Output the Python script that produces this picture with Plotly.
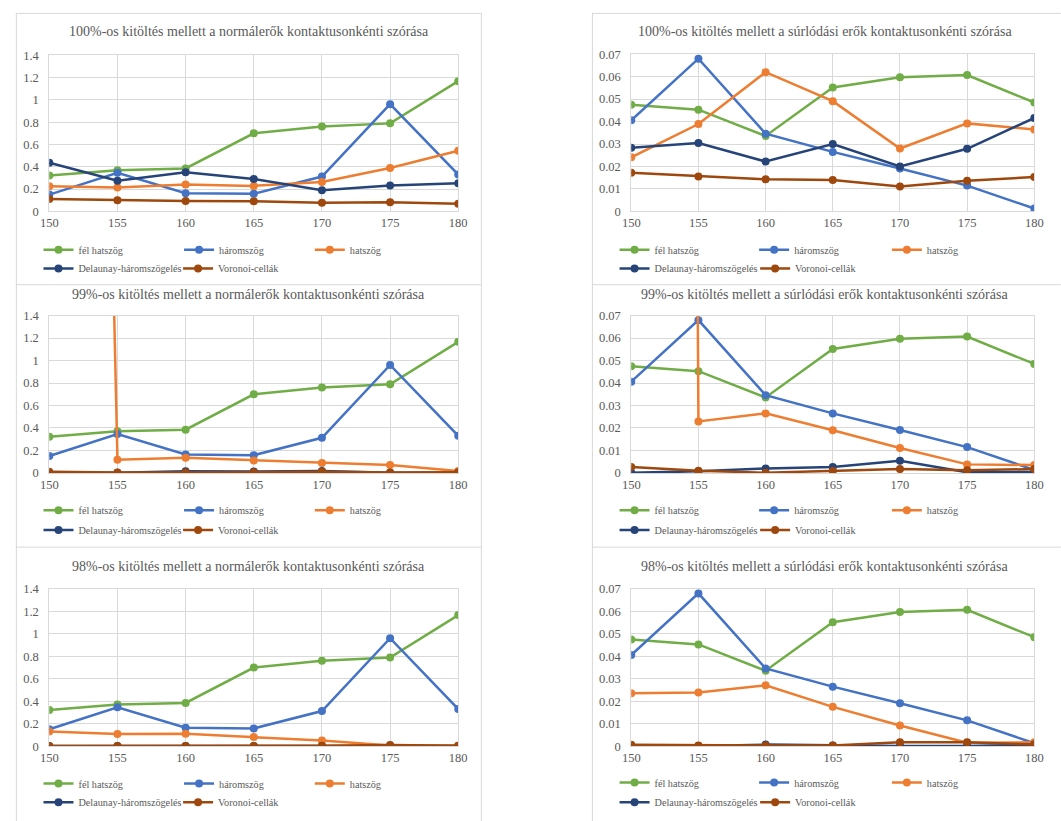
import plotly.graph_objects as go

W, H = 1061, 821

x_vals = [150, 155, 160, 165, 170, 175, 180]
series_names = ["fél hatszög", "háromszög", "hatszög", "Delaunay-háromszögelés", "Voronoi-cellák"]
colors = ["#70AD47", "#4472C4", "#ED7D31", "#264478", "#9E480E"]

# standard deviation of normal forces per contact
normal_fel_hatszog = [0.322, 0.370, 0.385, 0.700, 0.760, 0.789, 1.167]
normal_haromszog = [0.151, 0.347, 0.164, 0.158, 0.313, 0.961, 0.330]
normal_100_hatszog = [0.226, 0.214, 0.241, 0.229, 0.264, 0.390, 0.543]
normal_100_delaunay = [0.437, 0.276, 0.352, 0.291, 0.191, 0.232, 0.252]
normal_100_voronoi = [0.112, 0.100, 0.094, 0.091, 0.079, 0.082, 0.068]
normal_99_hatszog = [27.0, 0.117, 0.134, 0.111, 0.088, 0.070, 0.018]
normal_99_delaunay = [0.001, 0.001, 0.015, 0.012, 0.017, 0.001, 0.001]
normal_99_voronoi = [0.010, 0.003, 0.003, 0.007, 0.010, 0.004, 0.006]
normal_98_hatszog = [0.131, 0.108, 0.111, 0.082, 0.050, 0.006, 0.003]
normal_98_delaunay = [0.001, 0.001, 0.001, 0.001, 0.002, 0.001, 0.002]
normal_98_voronoi = [0.002, 0.002, 0.002, 0.002, 0.004, 0.010, 0.004]

# standard deviation of friction forces per contact
friction_fel_hatszog = [0.0475, 0.0453, 0.0336, 0.0552, 0.0597, 0.0607, 0.0485]
friction_haromszog = [0.0406, 0.0680, 0.0346, 0.0265, 0.0191, 0.0115, 0.0013]
friction_100_hatszog = [0.0241, 0.0389, 0.0620, 0.0491, 0.0280, 0.0392, 0.0365]
friction_100_delaunay = [0.0284, 0.0305, 0.0222, 0.0300, 0.0200, 0.0279, 0.0416]
friction_100_voronoi = [0.0172, 0.0156, 0.0143, 0.0140, 0.0111, 0.0137, 0.0153]
friction_99_hatszog = [5.0, 0.0229, 0.0265, 0.0190, 0.0111, 0.0038, 0.0035]
friction_99_delaunay = [0.0001, 0.0007, 0.0020, 0.0026, 0.0054, 0.0003, 0.0004]
friction_99_voronoi = [0.0026, 0.0010, 0.0001, 0.0009, 0.0017, 0.0012, 0.0017]
friction_98_hatszog = [0.0236, 0.0239, 0.0271, 0.0175, 0.0092, 0.0015, 0.0017]
friction_98_delaunay = [0.0001, 0.0001, 0.0007, 0.0003, 0.0001, 0.0001, 0.0007]
friction_98_voronoi = [0.0006, 0.0003, 0.0003, 0.0003, 0.0017, 0.0017, 0.0007]

titles = [
    "100%-os kitöltés mellett a normálerők kontaktusonkénti szórása",
    "100%-os kitöltés mellett a súrlódási erők kontaktusonkénti szórása",
    "99%-os kitöltés mellett a normálerők kontaktusonkénti szórása",
    "99%-os kitöltés mellett a súrlódási erők kontaktusonkénti szórása",
    "98%-os kitöltés mellett a normálerők kontaktusonkénti szórása",
    "98%-os kitöltés mellett a súrlódási erők kontaktusonkénti szórása",
]

chart_series = [
    [normal_fel_hatszog, normal_haromszog, normal_100_hatszog, normal_100_delaunay, normal_100_voronoi],
    [friction_fel_hatszog, friction_haromszog, friction_100_hatszog, friction_100_delaunay, friction_100_voronoi],
    [normal_fel_hatszog, normal_haromszog, normal_99_hatszog, normal_99_delaunay, normal_99_voronoi],
    [friction_fel_hatszog, friction_haromszog, friction_99_hatszog, friction_99_delaunay, friction_99_voronoi],
    [normal_fel_hatszog, normal_haromszog, normal_98_hatszog, normal_98_delaunay, normal_98_voronoi],
    [friction_fel_hatszog, friction_haromszog, friction_98_hatszog, friction_98_delaunay, friction_98_voronoi],
]
y_ranges = [[0, 1.4], [0, 0.07]] * 3
y_dticks = [0.2, 0.01] * 3

FONT = '"Liberation Serif", "Times New Roman", Times, serif'
TXT = "#595959"
GRID = "#D9D9D9"


def px_x(v):
    return v / W


def px_y(v):
    return 1 - v / H


# plot-area boxes in pixels: (left, right, top, bottom)
boxes = [
    (41, 457, 49, 208), (633, 1043, 48, 208),
    (41, 457, 314, 474), (633, 1043, 314, 474),
    (41, 457, 592, 752), (633, 1043, 592, 752),
]
title_pos = [(244, 25), (830, 25), (244, 292), (830, 292), (244, 569), (830, 569)]
legend_rows = [(247, 266), (247, 266), (512, 532), (512, 532), (790, 809), (789, 809)]
legend_cols_left = [39, 182, 315, 39, 181]
legend_cols_right = [625, 767, 902, 625, 768]

fig = go.Figure()
layout = {}
annotations = []
legend_idx = 0

for c in range(6):
    ax = "" if c == 0 else str(c + 1)
    l, r, t, b = boxes[c]
    cols = legend_cols_left if c % 2 == 0 else legend_cols_right
    for k, (name, col, ys) in enumerate(zip(series_names, colors, chart_series[c])):
        legend_idx += 1
        lname = f"legend{legend_idx + 1}"
        fig.add_trace(go.Scatter(
            x=x_vals, y=ys, name=name, mode="lines+markers",
            line=dict(color=col, width=2.5),
            marker=dict(color=col, size=8),
            xaxis="x" + ax, yaxis="y" + ax, legend=lname, showlegend=True,
        ))
        row_y = legend_rows[c][0] if k < 3 else legend_rows[c][1]
        layout[lname] = dict(
            x=px_x(cols[k] - 9), y=px_y(row_y), xanchor="left", yanchor="middle",
            orientation="h", bgcolor="rgba(0,0,0,0)", borderwidth=0,
            font=dict(family=FONT, size=10.2, color=TXT),
        )
    layout["xaxis" + ax] = dict(
        domain=[px_x(l), px_x(r)], anchor="y" + ax,
        range=[150, 180], dtick=5, tick0=150,
        showgrid=True, gridcolor=GRID, gridwidth=1,
        showline=True, linecolor=GRID, linewidth=1, mirror=True,
        zeroline=False, ticks="", ticklabelstandoff=0,
        tickfont=dict(family=FONT, size=12.5, color=TXT),
    )
    layout["yaxis" + ax] = dict(
        domain=[px_y(b), px_y(t)], anchor="x" + ax,
        range=y_ranges[c], dtick=y_dticks[c], tick0=0,
        showgrid=True, gridcolor=GRID, gridwidth=1,
        showline=True, linecolor=GRID, linewidth=1, mirror=True,
        zeroline=False, ticks="", ticklabelstandoff=7,
        tickfont=dict(family=FONT, size=12.5, color=TXT),
    )
    tx, ty = title_pos[c]
    annotations.append(dict(
        text=titles[c], x=px_x(tx), y=px_y(ty), xref="paper", yref="paper",
        xanchor="center", yanchor="middle", showarrow=False,
        font=dict(family=FONT, size=14, color=TXT),
    ))

# panel frames
shapes = []
frame = dict(color=GRID, width=1)
for xv in (7.5, 480.5, 593.5):
    shapes.append(dict(type="line", xref="paper", yref="paper",
                       x0=px_x(xv), x1=px_x(xv), y0=px_y(6), y1=px_y(830), line=frame))
for yv in (6.5, 282.5, 549.5):
    shapes.append(dict(type="line", xref="paper", yref="paper",
                       x0=px_x(7), x1=px_x(480.5), y0=px_y(yv), y1=px_y(yv), line=frame))
    shapes.append(dict(type="line", xref="paper", yref="paper",
                       x0=px_x(593), x1=px_x(1070), y0=px_y(yv), y1=px_y(yv), line=frame))

fig.update_layout(
    width=W, height=H,
    margin=dict(l=0, r=0, t=0, b=0),
    paper_bgcolor="white", plot_bgcolor="white",
    font=dict(family=FONT, color=TXT),
    showlegend=True,
    annotations=annotations, shapes=shapes,
    **layout,
)

fig.write_html("out.html")
